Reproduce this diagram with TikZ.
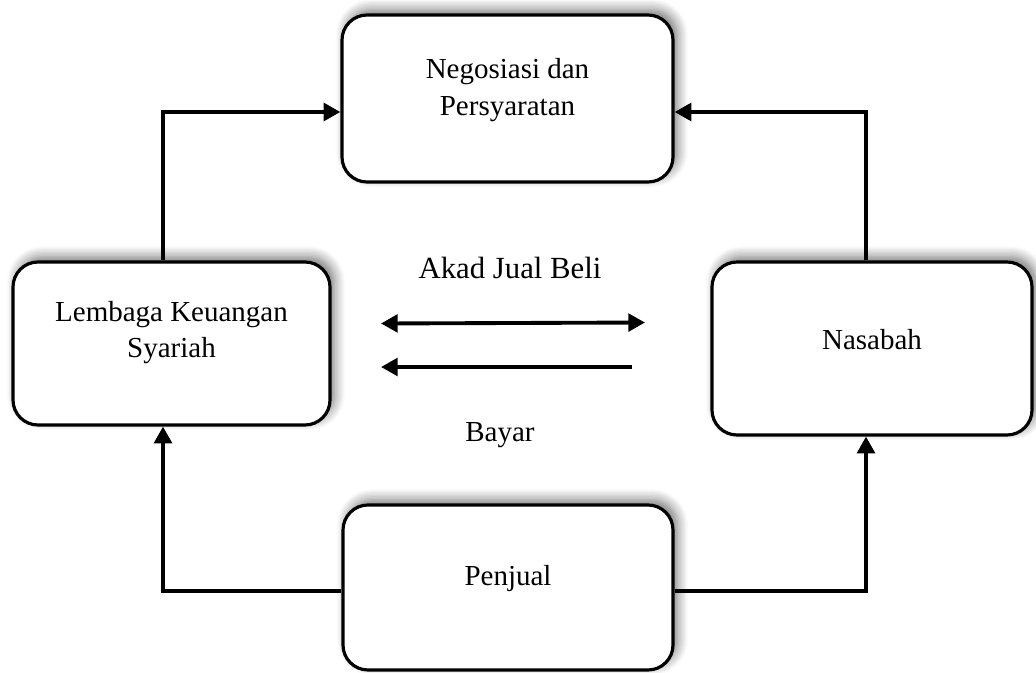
\documentclass[tikz,border=0pt]{standalone}
\usepackage{fontspec}
\setmainfont{Liberation Serif}
\usetikzlibrary{arrows.meta,shadows.blur}

\tikzset{
  box/.style={draw, line width=1.8pt, rounded corners=0.5cm, fill=white,
    blur shadow={shadow xshift=2.5pt, shadow yshift=3pt, shadow blur steps=8, shadow blur radius=6pt, shadow opacity=55}},
  boxtext/.style={align=center, font=\fontsize{16.5}{20.8}\selectfont},
  conn/.style={line width=2.2pt, -{Triangle[length=9.5pt,width=10pt]}}
}

\begin{document}
\begin{tikzpicture}

\useasboundingbox (0,0) rectangle (20.72,13.44);

% Boxes
\node[box, minimum width=6.62cm, minimum height=3.34cm] (neg) at (10.15,11.47) {};
\node[box, minimum width=6.34cm, minimum height=3.26cm] (lks) at (3.43,6.57) {};
\node[box, minimum width=6.40cm, minimum height=3.46cm] (nas) at (17.44,6.47) {};
\node[box, minimum width=6.60cm, minimum height=3.30cm] (pen) at (10.16,1.69) {};

\node[boxtext] (negtxt) at (10.15,11.64) {Negosiasi dan\\Persyaratan};
\node[boxtext] (lkstxt) at (3.43,6.79) {Lembaga Keuangan\\Syariah};
\node[boxtext] (nastxt) at (17.44,6.64) {Nasabah};
\node[boxtext] (pentxt) at (10.16,1.86) {Penjual};

% Corners
\coordinate (tl) at (3.26,11.2);
\coordinate (tr) at (17.32,11.2);
\coordinate (bl) at (3.26,1.62);
\coordinate (br) at (17.32,1.62);

\draw[conn] (lks.north -| tl) -- (tl) -- (tl -| neg.west);
\draw[conn] (nas.north -| tr) -- (tr) -- (tr -| neg.east);
\draw[conn] (bl -| pen.west) -- (bl) -- (bl |- lks.south);
\draw[conn] (br -| pen.east) -- (br) -- (br |- nas.south);

% Middle
\coordinate (a1) at (7.62,6.97);
\coordinate (a2) at (12.90,6.99);
\coordinate (b1) at (12.64,6.10);
\coordinate (b2) at (7.62,6.10);

\draw[conn, {Triangle[length=9.5pt,width=10pt]}-{Triangle[length=9.5pt,width=10pt]}] (a1) -- (a2);
\draw[conn] (b1) -- (b2);

\node[font=\fontsize{17.5}{21}\selectfont] (akad) at (10.2,8.08) {Akad Jual Beli};
\node[font=\fontsize{16.5}{20}\selectfont] (bayar) at (10.0,4.74) {Bayar};

\end{tikzpicture}
\end{document}
